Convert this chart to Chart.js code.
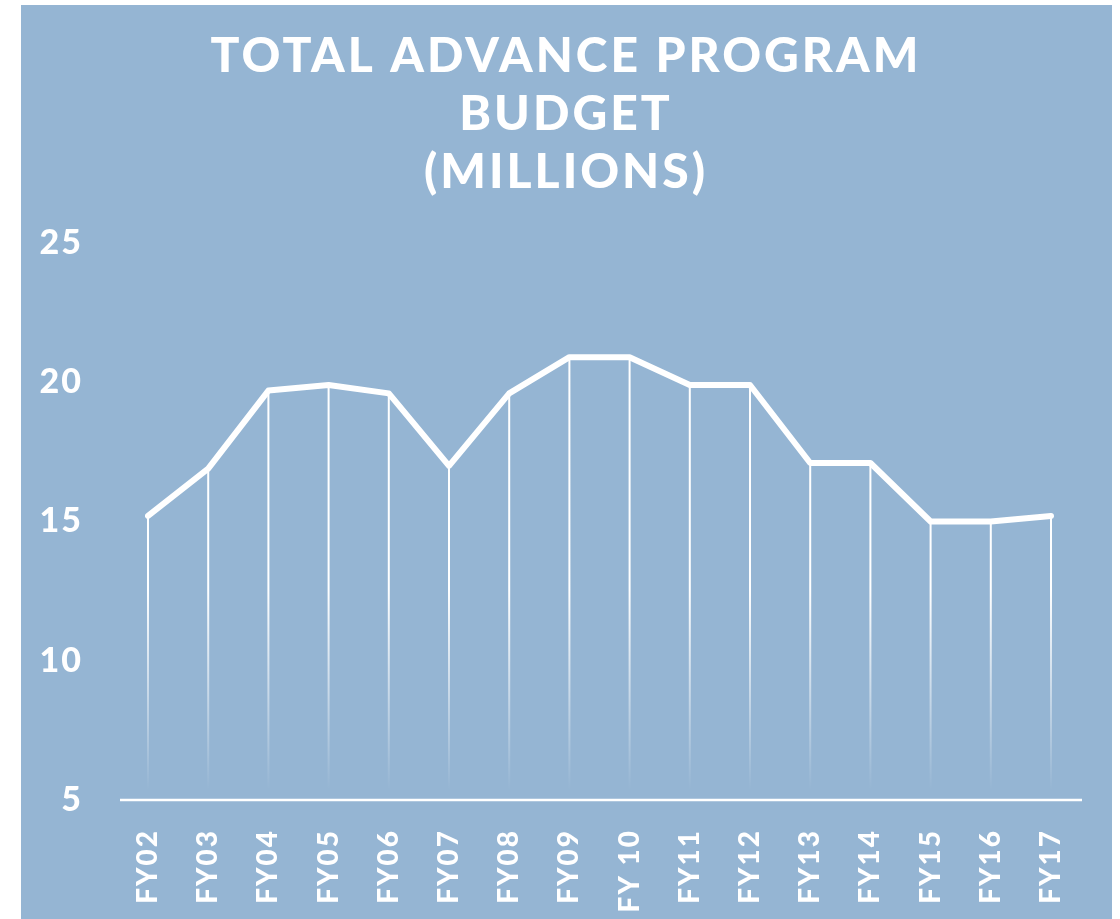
<!DOCTYPE html>
<html>
<head>
<meta charset="utf-8">
<script src="https://cdn.jsdelivr.net/npm/chart.js@4.4.1/dist/chart.umd.min.js"></script>
<style>
  html, body { margin: 0; padding: 0; background: #ffffff; }
  #wrap { position: relative; width: 1120px; height: 919px; }
</style>
</head>
<body>
<div id="wrap"><canvas id="grafico" width="1120" height="919"></canvas></div>
<script>
// Datos
const titleLines = ['TOTAL ADVANCE PROGRAM', 'BUDGET', '(MILLIONS)'];
const years = ['FY02', 'FY03', 'FY04', 'FY05', 'FY06', 'FY07', 'FY08', 'FY09',
               'FY 10', 'FY11', 'FY12', 'FY13', 'FY14', 'FY15', 'FY16', 'FY17'];
const budget = [15.2, 16.9, 19.7, 19.9, 19.6, 17.0, 19.6, 20.9,
                20.9, 19.9, 19.9, 17.1, 17.1, 15.0, 15.0, 15.2];
const yTicks = [5, 10, 15, 20, 25];

const panelColor = '#95b5d3';
const tickSpacing = '2px';

// fondo azul, titulo, lineas verticales y eje
const decor = {
    id: 'decor',
    beforeUpdate(chart) { chart.ctx.letterSpacing = tickSpacing; },
    beforeDraw(chart) {
        const ctx = chart.ctx;
        ctx.save();
        ctx.fillStyle = panelColor;
        ctx.fillRect(21, 5, 1091, 914);
        // titulo
        ctx.fillStyle = '#ffffff';
        ctx.font = '900 48px Lato';
        ctx.letterSpacing = '3px';
        ctx.textAlign = 'center';
        ctx.textBaseline = 'alphabetic';
        titleLines.forEach((t, i) => ctx.fillText(t, 566, 72 + i * 58));
        ctx.restore();
        ctx.letterSpacing = tickSpacing;
    },
    beforeDatasetsDraw(chart) {
        const ctx = chart.ctx;
        const y = chart.scales.y;
        const bottom = y.getPixelForValue(5);
        const meta = chart.getDatasetMeta(0);
        const grad = ctx.createLinearGradient(0, 590, 0, bottom - 10);
        grad.addColorStop(0, 'rgba(255,255,255,1)');
        grad.addColorStop(1, 'rgba(255,255,255,0)');
        ctx.save();
        ctx.strokeStyle = grad;
        ctx.lineWidth = 2;
        meta.data.forEach(p => {
            ctx.beginPath();
            ctx.moveTo(p.x, p.y);
            ctx.lineTo(p.x, bottom - 10);
            ctx.stroke();
        });
        // eje horizontal
        ctx.strokeStyle = '#ffffff';
        ctx.lineWidth = 2.5;
        ctx.beginPath();
        ctx.moveTo(120, bottom);
        ctx.lineTo(1082, bottom);
        ctx.stroke();
        ctx.restore();
    }
};

const ctx = document.getElementById('grafico').getContext('2d');
const chart = new Chart(ctx, {
    type: 'line',
    data: {
        labels: years,
        datasets: [{
            label: 'Budget',
            data: budget,
            borderColor: '#ffffff',
            borderWidth: 6,
            borderCapStyle: 'round',
            borderJoinStyle: 'round',
            pointRadius: 0,
            tension: 0
        }]
    },
    options: {
        responsive: false,
        animation: false,
        layout: { padding: { left: 21, right: 69, top: 243, bottom: 0 } },
        plugins: { legend: { display: false }, tooltip: { enabled: false } },
        scales: {
            x: {
                offset: false,
                grid: { display: false },
                border: { display: false },
                afterFit(scale) { scale.height = 119; },
                ticks: {
                    autoSkip: false,
                    minRotation: 90,
                    maxRotation: 90,
                    padding: 21,
                    color: '#ffffff',
                    font: { family: 'Lato', size: 28, weight: '900' }
                }
            },
            y: {
                min: 5,
                max: 25,
                grid: { display: false },
                border: { display: false },
                afterFit(scale) { scale.width = 127; },
                afterBuildTicks(scale) { scale.ticks = yTicks.map(v => ({ value: v })); },
                ticks: {
                    padding: 57,
                    color: '#ffffff',
                    font: { family: 'Lato', size: 34, weight: '900' }
                }
            }
        }
    },
    plugins: [decor]
});
</script>
</body>
</html>
